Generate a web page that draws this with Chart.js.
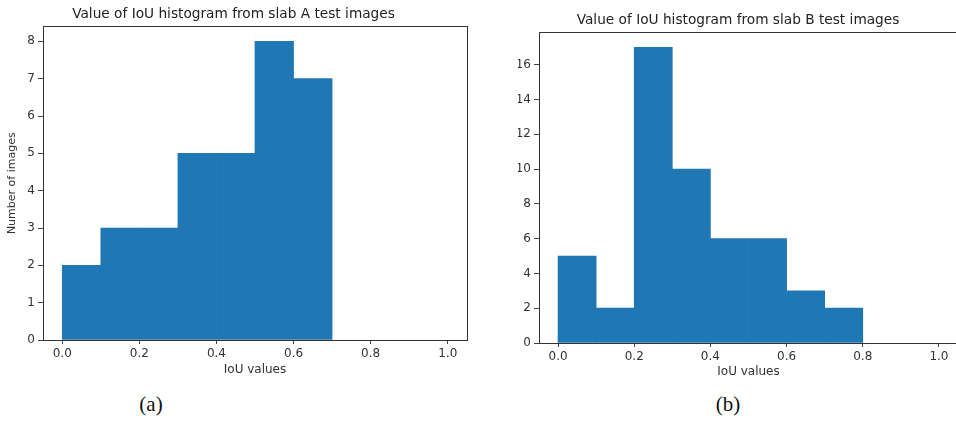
<!DOCTYPE html>
<html>
<head>
<meta charset="utf-8">
<script src="https://cdn.jsdelivr.net/npm/chart.js@4/dist/chart.umd.min.js"></script>
<style>
    html, body { margin: 0; padding: 0; background: #fff; width: 956px; height: 422px; overflow: hidden; }
    .panel { position: absolute; }
    #panelA { left: 0; top: 0; width: 480px; height: 390px; }
    #panelB { left: 518px; top: 0; width: 440px; height: 390px; }
    .caption { position: absolute; top: 392px; font-family: "Liberation Serif", serif; font-size: 21px; color: #111; transform: translateX(-50%); }
</style>
</head>
<body>
<div class="panel" id="panelA"><canvas id="chartA"></canvas></div>
<div class="panel" id="panelB"><canvas id="chartB"></canvas></div>
<div class="caption" style="left:151px">(a)</div>
<div class="caption" style="left:728px">(b)</div>
<script>
// bin centres (bin width 0.1)
const binCenters = [0.05, 0.15, 0.25, 0.35, 0.45, 0.55, 0.65, 0.75, 0.85, 0.95];
const countsA = [2, 3, 3, 5, 5, 8, 7, 0, 0, 0];
const countsB = [5, 2, 17, 10, 6, 6, 3, 2, 0, 0];
const xTicks = [0, 0.2, 0.4, 0.6, 0.8, 1.0];
const yTicksA = [0, 1, 2, 3, 4, 5, 6, 7, 8];
const yTicksB = [0, 2, 4, 6, 8, 10, 12, 14, 16];

const barColor = '#1f77b4';
const fontFam = '"DejaVu Sans", sans-serif';

// draw the top / right frame like matplotlib
const framePlugin = {
    id: 'frame',
    afterDraw(chart) {
        const {ctx, chartArea} = chart;
        ctx.save();
        ctx.strokeStyle = '#333';
        ctx.lineWidth = 1;
        ctx.strokeRect(Math.round(chartArea.left) + 0.5, Math.round(chartArea.top) + 0.5,
            Math.round(chartArea.right - chartArea.left), Math.round(chartArea.bottom - chartArea.top));
        ctx.restore();
    }
};

function makeChart(canvasId, counts, yTicks, yMax, title, yTitle, lay) {
    const config = {
        type: 'bar',
        data: {
            datasets: [{
                // empty bins are left out so nothing is drawn there
                data: binCenters.map((x, i) => ({x: x, y: counts[i] || null})),
                backgroundColor: barColor,
                borderWidth: 0,
                barPercentage: 1,
                categoryPercentage: 1,
            }]
        },
        options: {
            responsive: true,
            maintainAspectRatio: false,
            animation: false,
            layout: { padding: { left: 0, top: 0, bottom: 0, right: lay.right } },
            plugins: {
                legend: { display: false },
                tooltip: { enabled: false },
                title: {
                    display: true,
                    text: title,
                    color: '#222',
                    font: { family: fontFam, size: 13.7, weight: 'normal' },
                    padding: { top: lay.titleTop, bottom: 4 }
                }
            },
            scales: {
                x: {
                    type: 'linear',
                    min: -0.05,
                    max: 1.05,
                    offset: false,
                    afterBuildTicks: function (scale) {
                        scale.ticks = xTicks.map(v => ({value: v}));
                    },
                    afterFit: function (scale) { scale.height = lay.xHeight; },
                    ticks: {
                        color: '#333',
                        font: { family: fontFam, size: 12 },
                        padding: 3,
                        maxRotation: 0,
                        callback: v => v.toFixed(1)
                    },
                    grid: { display: true, offset: false, drawOnChartArea: false, drawTicks: true, tickLength: 4, color: '#444' },
                    border: { display: true, color: '#333' },
                    title: {
                        display: true,
                        text: 'IoU values',
                        color: '#333',
                        font: { family: fontFam, size: 12 },
                        padding: { top: 0, bottom: lay.xTitleBottom }
                    }
                },
                y: {
                    min: 0,
                    max: yMax,
                    afterBuildTicks: function (scale) {
                        scale.ticks = yTicks.map(v => ({value: v}));
                    },
                    afterFit: function (scale) { scale.width = lay.yWidth; },
                    ticks: {
                        color: '#333',
                        font: { family: fontFam, size: 12 },
                        padding: 3
                    },
                    grid: { display: true, drawOnChartArea: false, drawTicks: true, tickLength: 5, color: '#444' },
                    border: { display: true, color: '#333' },
                    title: {
                        display: !!yTitle,
                        text: yTitle,
                        color: '#333',
                        font: { family: fontFam, size: 11 },
                        padding: { top: 6, bottom: 0 }
                    }
                }
            }
        },
        plugins: [framePlugin]
    };
    return new Chart(document.getElementById(canvasId), config);
}

makeChart('chartA', countsA, yTicksA, 8.4, 'Value of IoU histogram from slab A test images', 'Number of images',
    {titleTop: 6, xHeight: 50, xTitleBottom: 13, yWidth: 43, right: 13});
makeChart('chartB', countsB, yTicksB, 17.85, 'Value of IoU histogram from slab B test images', '',
    {titleTop: 12, xHeight: 47, xTitleBottom: 11, yWidth: 21, right: 0});
</script>
</body>
</html>
